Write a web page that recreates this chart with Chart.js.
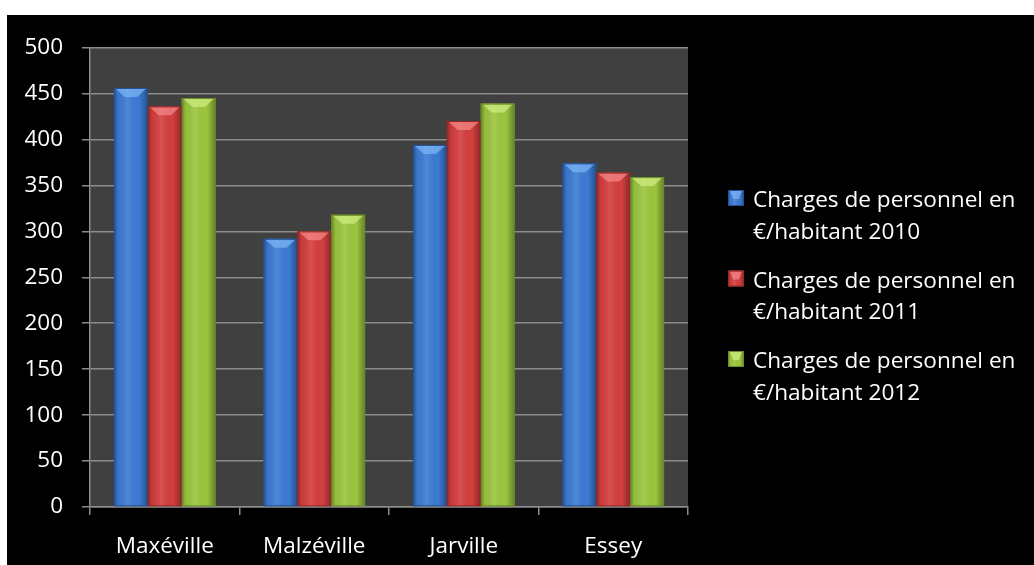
<!DOCTYPE html>
<html>
<head>
<meta charset="utf-8">
<script src="https://cdn.jsdelivr.net/npm/chart.js@4/dist/chart.umd.min.js"></script>
<style>
  html, body { margin: 0; padding: 0; background: #ffffff; }
  #panel { position: absolute; left: 7px; top: 15px; width: 1027px; height: 550px; background: #000000; }
  canvas { display: block; }
</style>
</head>
<body>
<div id="panel"><canvas id="chart" width="1027" height="550"></canvas></div>
<script>
// Communes on the category axis
const communes = ['Maxéville', 'Malzéville', 'Jarville', 'Essey'];

// Personnel costs per inhabitant (€)
const charges2010 = [456, 292, 394, 374];
const charges2011 = [436, 300, 420, 364];
const charges2012 = [445, 318, 439, 359];

// Value axis ticks
const yTicks = [0, 50, 100, 150, 200, 250, 300, 350, 400, 450, 500];

// Legend captions, two lines each
const legendLines = [
  ['Charges de personnel en', '€/habitant 2010'],
  ['Charges de personnel en', '€/habitant 2011'],
  ['Charges de personnel en', '€/habitant 2012']
];

const FONT = '"Open Sans", "DejaVu Sans", sans-serif';

// Base / light / dark tones for each series
const palette = [
  { base: '#3b7bd4', light: '#7fb8f5', dark: '#244f96' },
  { base: '#d43e3e', light: '#f58a8a', dark: '#962828' },
  { base: '#9cc63e', light: '#d2ee86', dark: '#6c8e26' }
];

// Dark plot background
const plotBackground = {
  id: 'plotBackground',
  beforeDraw(chart) {
    const { ctx, chartArea: a } = chart;
    ctx.save();
    ctx.fillStyle = '#404040';
    ctx.fillRect(a.left, a.top, a.right - a.left, a.bottom - a.top);
    ctx.restore();
  }
};

// Rounded, glossy look on every bar
function shadeRect(ctx, left, top, w, h, tone) {
  const g = ctx.createLinearGradient(left, 0, left + w, 0);
  g.addColorStop(0, 'rgba(0,0,0,0.35)');
  g.addColorStop(0.12, 'rgba(0,0,0,0.05)');
  g.addColorStop(0.4, 'rgba(255,255,255,0.10)');
  g.addColorStop(0.75, 'rgba(0,0,0,0.0)');
  g.addColorStop(1, 'rgba(0,0,0,0.35)');
  ctx.fillStyle = g;
  ctx.fillRect(left, top, w, h);
  // light chevron cap
  const cap = Math.min(9, h);
  ctx.beginPath();
  ctx.moveTo(left + 2, top + 1);
  ctx.lineTo(left + w - 2, top + 1);
  ctx.lineTo(left + w * 0.68, top + cap);
  ctx.lineTo(left + w * 0.32, top + cap);
  ctx.closePath();
  ctx.fillStyle = tone.light;
  ctx.globalAlpha = 0.7;
  ctx.fill();
  ctx.globalAlpha = 1;
  ctx.strokeStyle = tone.dark;
  ctx.lineWidth = 1;
  ctx.strokeRect(left + 0.5, top + 0.5, w - 1, h - 1);
}

const barShading = {
  id: 'barShading',
  afterDatasetsDraw(chart) {
    const ctx = chart.ctx;
    ctx.save();
    chart.data.datasets.forEach((ds, i) => {
      const meta = chart.getDatasetMeta(i);
      meta.data.forEach(bar => {
        const p = bar.getProps(['x', 'y', 'base', 'width'], true);
        const left = p.x - p.width / 2;
        shadeRect(ctx, left, p.y, p.width, p.base - p.y, palette[i]);
      });
    });
    ctx.restore();
  }
};

// Two-line legend on the right
const sideLegend = {
  id: 'sideLegend',
  afterDraw(chart) {
    const ctx = chart.ctx;
    ctx.save();
    ctx.font = '22.6px ' + FONT;
    ctx.textBaseline = 'alphabetic';
    ctx.textAlign = 'left';
    chart.data.datasets.forEach((ds, i) => {
      const baseline = 192 + i * 80.5;
      const boxTop = baseline - 17;
      ctx.fillStyle = palette[i].base;
      ctx.fillRect(721, boxTop, 16, 16);
      shadeRect(ctx, 721, boxTop, 16, 16, palette[i]);
      ctx.fillStyle = '#ffffff';
      ds.legendLines.forEach((line, k) => {
        ctx.fillText(line, 746, baseline + k * 31.5);
      });
    });
    ctx.restore();
  }
};

const lineColor = '#8c8c8c';

new Chart(document.getElementById('chart'), {
  type: 'bar',
  data: {
    labels: communes,
    datasets: [charges2010, charges2011, charges2012].map((values, i) => ({
      label: legendLines[i].join(' '),
      legendLines: legendLines[i],
      data: values,
      backgroundColor: palette[i].base,
      borderWidth: 0,
      categoryPercentage: 0.68,
      barPercentage: 1.0
    }))
  },
  options: {
    responsive: false,
    animation: false,
    devicePixelRatio: 1,
    layout: { padding: { top: 28, right: 346, left: 0, bottom: 0 } },
    plugins: {
      legend: { display: false },
      tooltip: { enabled: false }
    },
    scales: {
      x: {
        grid: {
          display: true,
          drawOnChartArea: false,
          drawTicks: true,
          tickLength: 8,
          color: lineColor,
          lineWidth: 1.5,
          offset: true
        },
        border: { display: true, color: lineColor, width: 1.5 },
        ticks: {
          color: '#ffffff',
          font: { family: FONT, size: 22.5 },
          padding: 18,
          maxRotation: 0
        },
        afterFit(scale) { scale.height = 58; }
      },
      y: {
        min: 0,
        max: 500,
        afterBuildTicks(scale) { scale.ticks = yTicks.map(v => ({ value: v })); },
        grid: {
          color: lineColor,
          lineWidth: 1.5,
          drawTicks: true,
          tickLength: 8
        },
        border: { display: true, color: lineColor, width: 1.5 },
        ticks: {
          color: '#ffffff',
          font: { family: FONT, size: 22.5 },
          padding: 19
        },
        afterFit(scale) { scale.width = 83; }
      }
    }
  },
  plugins: [plotBackground, barShading, sideLegend]
});
</script>
</body>
</html>
